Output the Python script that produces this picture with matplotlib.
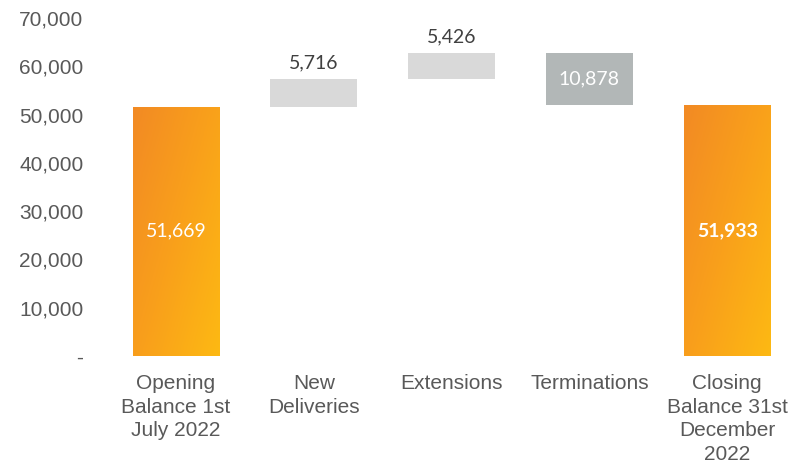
import numpy as np
import matplotlib
matplotlib.use("Agg")
import matplotlib.pyplot as plt
from matplotlib.colors import LinearSegmentedColormap
from matplotlib.ticker import FuncFormatter

# waterfall data
categories = ["Opening\nBalance 1st\nJuly 2022", "New\nDeliveries", "Extensions",
              "Terminations", "Closing\nBalance 31st\nDecember\n2022"]
opening = 51669
changes = [5716, 5426, -10878]
closing = 51933

tick_font = "Liberation Sans"
label_font = "Lato"
grey_text = "#595959"

fig = plt.figure(figsize=(8.05, 4.63), dpi=100)
ax = fig.add_axes([0.133, 0.231, 0.856, 0.730])

width = 0.63
orange = LinearSegmentedColormap.from_list("orange", ["#F28A24", "#F9A01B", "#FDB913"])


def gradient_bar(x, height):
    rect = ax.bar(x, height, width=width, color="none", edgecolor="none", zorder=2)[0]
    u, v = np.meshgrid(np.linspace(0, 1, 60), np.linspace(0, 1, 200))
    # darker at top-left, yellow at bottom-right
    t = 0.55 * u + 0.45 * v
    im = ax.imshow(t, cmap=orange, aspect="auto", origin="upper",
                   extent=[x - width / 2, x + width / 2, 0, height], zorder=2)
    im.set_clip_path(rect)


# opening balance
gradient_bar(0, opening)
ax.text(0, opening / 2, f"{opening:,}", color="white", ha="center", va="center",
        fontsize=14, family=label_font)

# movements
level = opening
for i, c in enumerate(changes, start=1):
    bottom = level if c > 0 else level + c
    color = "#D9D9D9" if c > 0 else "#B2B7B7"
    ax.bar(i, abs(c), bottom=bottom, width=width, color=color, zorder=2)
    if c > 0:
        ax.text(i, bottom + c + 1500, f"{c:,}", color="#404040", ha="center",
                va="bottom", fontsize=14, family=label_font)
    else:
        ax.text(i, bottom + abs(c) / 2, f"{abs(c):,}", color="white", ha="center",
                va="center", fontsize=14, family=label_font)
    level += c

# closing balance
gradient_bar(4, closing)
ax.text(4, closing / 2, f"{closing:,}", color="white", ha="center", va="center",
        fontsize=14, family=label_font, fontweight="bold")

ax.set_xlim(-0.5, 4.5)
ax.set_ylim(0, 70000)
ax.set_yticks(range(0, 70001, 10000))
ax.yaxis.set_major_formatter(FuncFormatter(lambda v, p: "-" if v == 0 else f"{int(v):,}"))
ax.set_xticks(range(len(categories)))
ax.set_xticklabels(categories)

for lab in ax.get_xticklabels() + ax.get_yticklabels():
    lab.set_family(tick_font)
    lab.set_fontsize(15)
    lab.set_color(grey_text)
for lab in ax.get_xticklabels():
    lab.set_linespacing(1.3)

ax.tick_params(axis="both", length=0)
ax.tick_params(axis="y", pad=17)
ax.tick_params(axis="x", pad=13)
for s in ax.spines.values():
    s.set_visible(False)

plt.savefig("out.png", dpi=100)
